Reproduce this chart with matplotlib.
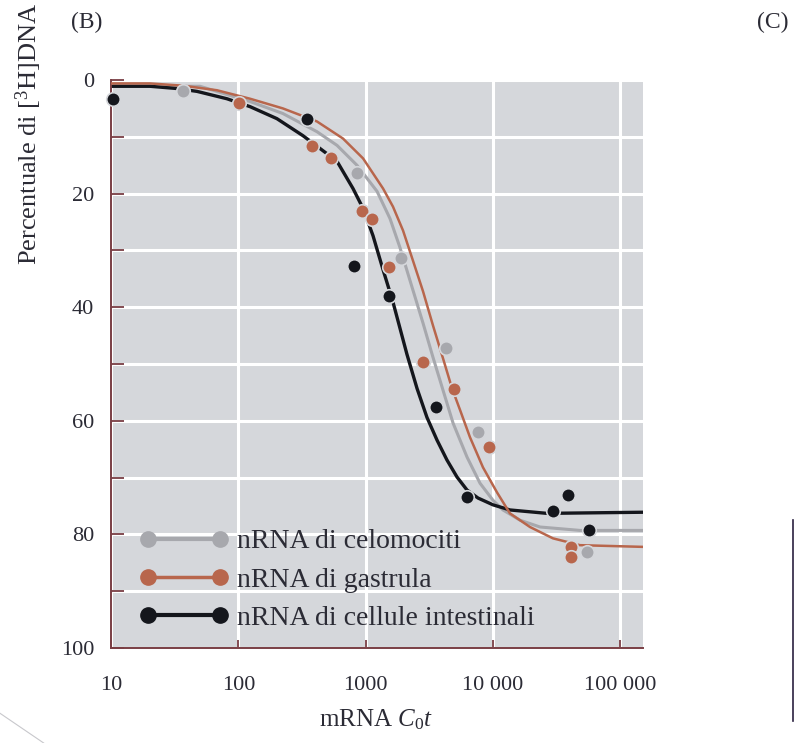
import matplotlib
matplotlib.use('Agg')
import matplotlib.pyplot as plt
from matplotlib.lines import Line2D
from matplotlib.ticker import NullLocator

plt.rcParams['font.family'] = ['Liberation Serif', 'DejaVu Serif']
plt.rcParams['mathtext.fontset'] = 'custom'
plt.rcParams['mathtext.rm'] = 'Liberation Serif'
plt.rcParams['mathtext.it'] = 'Liberation Serif:italic'

# measured points (mRNA Cot, % [3H]DNA)
celo_x = [37, 855, 1900, 4290, 7640, 54800]
celo_y = [2.0, 16.4, 31.4, 47.1, 62.0, 83.1]

gast_x = [101, 379, 535, 938, 1122, 1528, 2825, 4940, 9310, 41100, 41100]
gast_y = [4.1, 11.7, 13.8, 23.1, 24.4, 33.0, 49.7, 54.4, 64.6, 82.2, 84.0]

intest_x = [10.4, 347, 811, 1528, 3570, 6270, 29600, 38900, 56900]
intest_y = [3.3, 6.8, 32.8, 38.1, 57.6, 73.4, 75.9, 73.1, 79.2]

# fitted curves
celo_fit_x = [10, 50, 124, 224, 415, 596, 855, 1230, 1555, 1862, 2355, 2825, 3381,
              4055, 4864, 6266, 7925, 10023, 11995, 16331, 23442, 48306, 151000]
celo_fit_y = [1.1, 1.1, 3.8, 5.9, 9.1, 11.5, 15.0, 19.6, 24.4, 29.5, 37.0, 42.8, 48.8,
              54.6, 60.4, 66.4, 71.0, 74.0, 75.7, 77.5, 78.7, 79.3, 79.3]

gast_fit_x = [10, 20.2, 36.8, 68, 124, 224, 415, 664, 955, 1371, 1641, 1968, 2355,
              2825, 3381, 4055, 4775, 5521, 6607, 8356, 10765, 13614, 19543, 29648,
              48306, 151000]
gast_fit_y = [0.6, 0.6, 1.0, 1.8, 3.3, 5.0, 7.3, 10.3, 13.8, 19.1, 22.3, 26.5, 31.8,
              37.2, 43.2, 49.0, 54.3, 58.1, 62.9, 68.2, 72.6, 76.3, 78.7, 80.7,
              81.9, 82.2]

intest_fit_x = [10, 20.2, 33, 47.4, 81.5, 124, 201, 322, 596, 796, 955, 1143, 1371,
                1641, 1862, 2113, 2535, 3034, 3639, 4355, 5224, 6266, 7638, 10023,
                13614, 26607, 151000]
intest_fit_y = [1.1, 1.1, 1.5, 2.0, 3.3, 4.7, 6.8, 9.8, 14.3, 19.1, 22.6, 27.4, 33.4,
                39.1, 43.7, 48.3, 54.3, 59.4, 63.4, 66.9, 69.9, 72.2, 73.6, 74.8,
                75.7, 76.3, 76.1]

labels = ['nRNA di celomociti', 'nRNA di gastrula', 'nRNA di cellule intestinali']
xticks = [10, 100, 1000, 10000, 100000]
xtick_labels = ['10', '100', '1000', '10 000', '100 000']

GREY = '#a7a8ad'
BROWN = '#b8664c'
BLACK = '#14161c'
BG = '#d5d7db'
AXC = '#7a3e44'
TXT = '#2b2b35'

fig = plt.figure(figsize=(7.94, 7.43), dpi=100)
ax = fig.add_axes([0.1398, 0.1279, 0.670, 0.7644])
ax.set_facecolor(BG)
ax.set_axisbelow(True)

ax.plot(celo_fit_x, celo_fit_y, color=GREY, lw=2.2, solid_joinstyle='round', zorder=2)
ax.plot(gast_fit_x, gast_fit_y, color=BROWN, lw=1.8, solid_joinstyle='round', zorder=3)
ax.plot(intest_fit_x, intest_fit_y, color=BLACK, lw=2.4, solid_joinstyle='round', zorder=2)

ax.scatter(celo_x, celo_y, s=95, color=GREY, edgecolor=BG, linewidth=1.2, zorder=5, clip_on=False)
ax.scatter(gast_x, gast_y, s=95, color=BROWN, edgecolor=BG, linewidth=1.2, zorder=5, clip_on=False)
ax.scatter(intest_x, intest_y, s=95, color=BLACK, edgecolor=BG, linewidth=1.2, zorder=6, clip_on=False)

ax.set_xscale('log')
ax.set_xlim(10, 151000)
ax.set_ylim(100, 0)
ax.set_xticks(xticks, xtick_labels)
ax.xaxis.set_minor_locator(NullLocator())
ax.set_yticks([0, 20, 40, 60, 80, 100])
ax.set_yticks([10, 30, 50, 70, 90], minor=True)

ax.grid(True, which='major', axis='x', color='white', lw=2.2)
ax.grid(True, which='both', axis='y', color='white', lw=2.2)

for side in ['top', 'right']:
    ax.spines[side].set_visible(False)
for side in ['left', 'bottom']:
    ax.spines[side].set_color(AXC)
    ax.spines[side].set_linewidth(1.4)

ax.tick_params(axis='y', which='both', direction='in', length=9, width=1.3,
               color=AXC, labelcolor=TXT, labelsize=16, pad=12)
ax.tick_params(axis='x', which='both', direction='in', length=6, width=1.3,
               color=AXC, labelcolor=TXT, labelsize=16, pad=20)

handles = [Line2D([], [], color=GREY, lw=3, marker='o', ms=11),
           Line2D([], [], color=BROWN, lw=2.5, marker='o', ms=11),
           Line2D([], [], color=BLACK, lw=3, marker='o', ms=11)]
ax.legend(handles, labels, loc='upper left', bbox_to_anchor=(0.054, 0.2095),
          frameon=False, numpoints=2, handlelength=3.19, handletextpad=0.3,
          labelspacing=0.46, borderaxespad=0, borderpad=0,
          prop={'size': 20}, labelcolor=TXT)

fig.text(0.474, 0.031, 'mRNA $C_0t$', ha='center', va='center', fontsize=18, color=TXT)
fig.text(0.036, 0.6433, 'Percentuale di [$^3$H]DNA', rotation=90, ha='center',
         va='bottom', fontsize=19, color=TXT)
fig.text(0.1096, 0.970, '(B)', ha='center', va='center', fontsize=17, color=TXT)
fig.text(0.9736, 0.970, '(C)', ha='center', va='center', fontsize=17, color=TXT)

# scan edges
fig.add_artist(Line2D([0.999, 0.999], [0.03, 0.30], color='#2a2040', lw=1.2))
fig.add_artist(Line2D([0.0, 0.055], [0.04, 0.0], color='#c8c8cc', lw=0.8))

fig.savefig('out.png', dpi=100)
